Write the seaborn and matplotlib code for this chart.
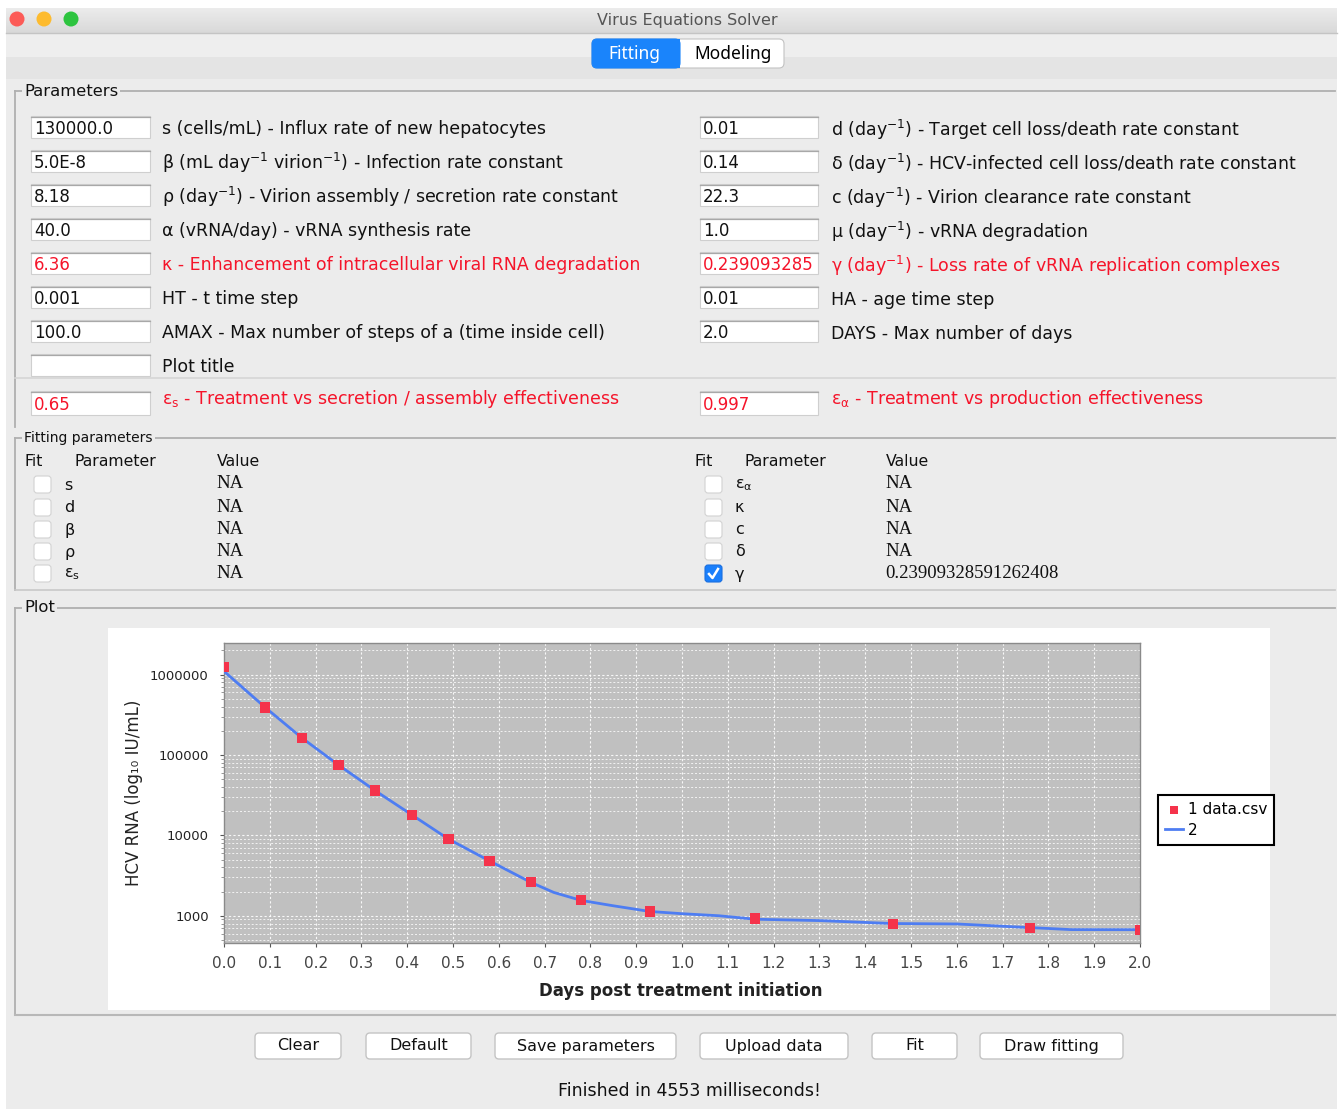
import numpy as np
import pandas as pd
import matplotlib
matplotlib.use("Agg")
import matplotlib.pyplot as plt
from matplotlib.patches import Rectangle, FancyBboxPatch, Circle
from matplotlib.lines import Line2D
import matplotlib.ticker as mticker
import seaborn as sns

# ---------------- data ----------------
data_days = [0.0, 0.09, 0.17, 0.25, 0.33, 0.41, 0.49, 0.58, 0.67, 0.78, 0.93, 1.16, 1.46, 1.76, 2.0]
data_rna = [1.24e6, 3.9e5, 1.63e5, 7.5e4, 3.6e4, 1.8e4, 9.0e3, 4.8e3, 2.65e3, 1.58e3, 1.13e3, 920, 790, 710, 670]

model_days = [0.0, 0.09, 0.17, 0.25, 0.33, 0.41, 0.49, 0.58, 0.67, 0.72, 0.78, 0.85, 0.93, 1.0, 1.08,
              1.16, 1.3, 1.46, 1.6, 1.7, 1.76, 1.85, 2.0]
model_rna = [1.1e6, 3.9e5, 1.63e5, 7.5e4, 3.6e4, 1.8e4, 9.0e3, 4.8e3, 2.6e3, 1.95e3, 1.55e3, 1.33e3, 1.13e3,
             1.06e3, 1.0e3, 905, 870, 800, 790, 740, 712, 672, 670]

x_ticks = [0.0, 0.1, 0.2, 0.3, 0.4, 0.5, 0.6, 0.7, 0.8, 0.9, 1.0, 1.1, 1.2, 1.3, 1.4, 1.5, 1.6, 1.7, 1.8, 1.9, 2.0]
x_tick_labels = ["0.0", "0.1", "0.2", "0.3", "0.4", "0.5", "0.6", "0.7", "0.8", "0.9", "1.0",
                 "1.1", "1.2", "1.3", "1.4", "1.5", "1.6", "1.7", "1.8", "1.9", "2.0"]
y_ticks = [1000, 10000, 100000, 1000000]
y_tick_labels = ["1000", "10000", "100000", "1000000"]
series_labels = ["1 data.csv", "2"]

left_values = ["130000.0", "5.0E-8", "8.18", "40.0", "6.36", "0.001", "100.0", ""]
left_labels = ["s (cells/mL) - Influx rate of new hepatocytes",
               r"β (mL day$^{-1}$ virion$^{-1}$) - Infection rate constant",
               r"ρ (day$^{-1}$) - Virion assembly / secretion rate constant",
               "α (vRNA/day) - vRNA synthesis rate",
               "κ - Enhancement of intracellular viral RNA degradation",
               "HT - t time step",
               "AMAX - Max number of steps of a (time inside cell)",
               "Plot title"]
left_red = [False, False, False, False, True, False, False, False]

right_values = ["0.01", "0.14", "22.3", "1.0", "0.239093285", "0.01", "2.0"]
right_labels = [r"d (day$^{-1}$) - Target cell loss/death rate constant",
                r"δ (day$^{-1}$) - HCV-infected cell loss/death rate constant",
                r"c (day$^{-1}$) - Virion clearance rate constant",
                r"μ (day$^{-1}$) - vRNA degradation",
                r"γ (day$^{-1}$) - Loss rate of vRNA replication complexes",
                "HA - age time step",
                "DAYS - Max number of days"]
right_red = [False, False, False, False, True, False, False]

eps_values = ["0.65", "0.997"]
eps_labels = [r"ε$_\mathrm{s}$ - Treatment vs secretion / assembly effectiveness",
              r"ε$_\mathrm{α}$ - Treatment vs production effectiveness"]

fit_left_names = ["s", "d", "β", "ρ", r"ε$_\mathrm{s}$"]
fit_left_values = ["NA", "NA", "NA", "NA", "NA"]
fit_right_names = [r"ε$_\mathrm{α}$", "κ", "c", "δ", "γ"]
fit_right_values = ["NA", "NA", "NA", "NA", "0.23909328591262408"]
fit_right_checked = [False, False, False, False, True]

buttons = ["Clear", "Default", "Save parameters", "Upload data", "Fit", "Draw fitting"]
status_text = "Finished in 4553 milliseconds!"
window_title = "Virus Equations Solver"

# ---------------- style ----------------
plt.rcParams['font.family'] = ['DejaVu Sans']
plt.rcParams['mathtext.fontset'] = 'dejavusans'

RED = '#f5142a'
TXT = '#111111'
GUI_BG = '#ececec'
GUI_FS = 12.5

W, H = 1342, 1109
fig = plt.figure(figsize=(W / 100, H / 100), dpi=100)
fig.patch.set_facecolor('white')
bg = fig.add_axes([0, 0, 1, 1], zorder=0)
bg.set_xlim(0, W)
bg.set_ylim(H, 0)
bg.axis('off')

# window
bg.add_patch(Rectangle((6, 8), 1331, 1101, facecolor=GUI_BG, edgecolor='none'))
grad = np.linspace(0.925, 0.85, 50).reshape(-1, 1)
bg.imshow(np.dstack([grad, grad, grad]), extent=(6, 1337, 33, 8), aspect='auto', zorder=1)
bg.plot([6, 1337], [33, 33], color='#c4c4c4', lw=1, zorder=2)
for cx, col in zip([17, 44, 71], ['#fc5b57', '#fdbb2f', '#2dc43f']):
    bg.add_patch(Circle((cx, 19), 7.5, facecolor=col, edgecolor='none', zorder=3))
bg.text(687, 20, window_title, ha='center', va='center', fontsize=11.5, color='#555555', zorder=3)
bg.add_patch(Rectangle((6, 34), 1331, 23, facecolor='#eeeeee', edgecolor='none', zorder=1))
bg.add_patch(Rectangle((6, 57), 1331, 22, facecolor='#e4e4e4', edgecolor='none', zorder=1))

# segmented tab control
bg.add_patch(FancyBboxPatch((592, 39), 192, 29, boxstyle="round,pad=0,rounding_size=5",
                            facecolor='white', edgecolor='#c2c2c2', lw=0.8, zorder=3))
bg.add_patch(FancyBboxPatch((592, 39), 88, 29, boxstyle="round,pad=0,rounding_size=5",
                            facecolor='#1a84fb', edgecolor='#1a84fb', lw=0.8, zorder=4))
bg.add_patch(Rectangle((660, 39), 20, 29, facecolor='#1a84fb', edgecolor='none', zorder=4))
bg.text(634, 54, "Fitting", ha='center', va='center', fontsize=12.5, color='white',
        family='Noto Sans', fontweight='semibold', zorder=5)
bg.text(733, 54, "Modeling", ha='center', va='center', fontsize=12.5, color='black',
        family='Noto Sans', fontweight='semibold', zorder=5)


def titled_border(label, y_top, y_bot, fs):
    bg.plot([15, 1335], [y_top, y_top], color='#b0b0b0', lw=1.3, zorder=2)
    bg.plot([15, 15], [y_top, y_bot], color='#b0b0b0', lw=1.3, zorder=2)
    bg.text(24, y_top, label, ha='left', va='center', fontsize=fs, color=TXT, zorder=3,
            bbox=dict(facecolor=GUI_BG, edgecolor='none', pad=1.5))


titled_border("Parameters", 91, 427, 11.8)
titled_border("Fitting parameters", 438, 590, 10)
titled_border("Plot", 608, 1014, 11.8)
bg.plot([15, 1335], [378, 378], color='#d6d6d6', lw=1.2, zorder=2)
bg.plot([15, 1335], [590, 590], color='#c8c8c8', lw=1.2, zorder=2)
bg.plot([15, 1335], [1015, 1015], color='#b8b8b8', lw=1.5, zorder=2)


def field(x, y, w, h, txt, red):
    bg.add_patch(Rectangle((x, y), w, h, facecolor='white', edgecolor='#cfcfcf', lw=0.8, zorder=3))
    bg.plot([x, x + w], [y + 0.6, y + 0.6], color='#a8a8a8', lw=0.9, zorder=4)
    bg.text(x + 3, y + h / 2 + 2, txt, ha='left', va='center', fontsize=12,
            color=RED if red else TXT, zorder=5)


row_c = [129, 163, 197, 231, 265, 299, 333, 367]
for i, (v, lab, r) in enumerate(zip(left_values, left_labels, left_red)):
    c = row_c[i]
    field(31, c - 13, 119, 22, v, r)
    bg.text(162, c, lab, ha='left', va='center', fontsize=GUI_FS, color=RED if r else TXT, zorder=5)
for i, (v, lab, r) in enumerate(zip(right_values, right_labels, right_red)):
    c = row_c[i]
    field(700, c - 13, 118, 22, v, r)
    bg.text(831, c + 1, lab, ha='left', va='center', fontsize=GUI_FS, color=RED if r else TXT, zorder=5)
field(31, 391, 119, 24, eps_values[0], True)
bg.text(162, 399, eps_labels[0], ha='left', va='center', fontsize=GUI_FS, color=RED, zorder=5)
field(700, 391, 118, 24, eps_values[1], True)
bg.text(831, 399, eps_labels[1], ha='left', va='center', fontsize=GUI_FS, color=RED, zorder=5)

# fitting parameters table
for xs in [(25, 75, 217), (695, 744, 886)]:
    for xx, ll in zip(xs, ("Fit", "Parameter", "Value")):
        bg.text(xx, 461, ll, ha='left', va='center', fontsize=11.3, color=TXT, zorder=5)

fit_rows = [484, 507, 529, 551, 573]


def checkbox(x, y, checked):
    if checked:
        bg.add_patch(FancyBboxPatch((x, y - 8), 17, 17, boxstyle="round,pad=0,rounding_size=3",
                                    facecolor='#1a7ffb', edgecolor='#1a6fe0', lw=0.8, zorder=4))
        bg.add_line(Line2D([x + 4, x + 7.5, x + 13], [y + 1, y + 5, y - 4], color='white', lw=1.8, zorder=5))
    else:
        bg.add_patch(FancyBboxPatch((x, y - 8), 17, 17, boxstyle="round,pad=0,rounding_size=3",
                                    facecolor='white', edgecolor='#d2d2d2', lw=0.8, zorder=4))


for i, y in enumerate(fit_rows):
    checkbox(34, y, False)
    bg.text(64, y + 1, fit_left_names[i], ha='left', va='center', fontsize=11.5, color=TXT, zorder=5)
    bg.text(216, y, fit_left_values[i], ha='left', va='center', fontsize=13.5, color=TXT,
            family='Liberation Serif', zorder=5)
    checkbox(705, y, fit_right_checked[i])
    bg.text(735, y + 1, fit_right_names[i], ha='left', va='center', fontsize=11.5, color=TXT, zorder=5)
    bg.text(885, y, fit_right_values[i], ha='left', va='center', fontsize=13.5, color=TXT,
            family='Liberation Serif', zorder=5)

# chart panel
bg.add_patch(Rectangle((108, 628), 1162, 382, facecolor='white', edgecolor='none', zorder=2))

# buttons
btn_x = [(255, 341), (366, 471), (495, 676), (700, 848), (872, 957), (980, 1123)]
for (x0, x1), lab in zip(btn_x, buttons):
    bg.add_patch(FancyBboxPatch((x0, 1033), x1 - x0, 26, boxstyle="round,pad=0,rounding_size=4",
                                facecolor='white', edgecolor='#c4c4c4', lw=1.0, zorder=3))
    bg.text((x0 + x1) / 2, 1046, lab, ha='center', va='center', fontsize=11.5, color=TXT, zorder=4)
bg.text(689, 1091, status_text, ha='center', va='center', fontsize=12.5, color=TXT, zorder=4)

# ---------------- the chart ----------------
ax = fig.add_axes([224 / W, 1 - 943 / H, 916 / W, 300 / H], zorder=2)
ax.set_facecolor('#c0c0c0')

df_data = pd.DataFrame({"days": data_days, "rna": data_rna})
df_model = pd.DataFrame({"days": model_days, "rna": model_rna})

sns.lineplot(data=df_model, x="days", y="rna", ax=ax, color='#4e7df2', lw=2.0,
             label=series_labels[1], zorder=3)
sns.scatterplot(data=df_data, x="days", y="rna", ax=ax, marker='s', s=55, color='#f5334b',
                edgecolor='none', label=series_labels[0], zorder=4)

ax.set_yscale('log')
ax.set_xlim(0, 2.0)
ax.set_ylim(458, 2.47e6)
ax.set_xticks(x_ticks, labels=x_tick_labels)
ax.set_yticks(y_ticks, labels=y_tick_labels)
ax.yaxis.set_minor_locator(mticker.LogLocator(base=10, subs=np.arange(2, 10)))
ax.yaxis.set_minor_formatter(mticker.NullFormatter())
ax.grid(which='major', axis='both', color='white', ls=(0, (2, 2)), lw=0.8, alpha=0.9)
ax.grid(which='minor', axis='y', color='white', ls=(0, (2, 2)), lw=0.7, alpha=0.8)
ax.set_axisbelow(True)
for sp in ax.spines.values():
    sp.set_color('#8a8a8a')
    sp.set_linewidth(1.0)
ax.tick_params(axis='both', which='major', colors='#555555', length=3, width=0.8, pad=8)
ax.tick_params(axis='x', which='major', labelsize=11, labelcolor='#444444', pad=6)
ax.tick_params(axis='y', which='major', labelsize=9.5, labelcolor='#222222')
ax.tick_params(axis='y', which='minor', length=2, width=0.6, colors='#888888')

ax.set_xlabel("Days post treatment initiation", fontsize=12, fontweight='bold', color='#222222')
ax.set_ylabel("HCV RNA (log₁₀ IU/mL)", fontsize=12, color='#222222')
ax.xaxis.set_label_coords(0.499, -0.13)
ax.yaxis.set_label_coords(-0.088, 0.5)

h, l = ax.get_legend_handles_labels()
order = [l.index(series_labels[0]), l.index(series_labels[1])]
leg = ax.legend([h[i] for i in order], [l[i] for i in order], loc='center left',
                bbox_to_anchor=(1.0195, 0.41), frameon=True, fancybox=False, framealpha=1,
                edgecolor='black', prop={'size': 11},
                handlelength=1.2, handletextpad=0.3, borderpad=0.45, labelspacing=0.35,
                borderaxespad=0, markerscale=0.8)
leg.get_frame().set_linewidth(1.5)

fig.savefig("out.png", dpi=100)
